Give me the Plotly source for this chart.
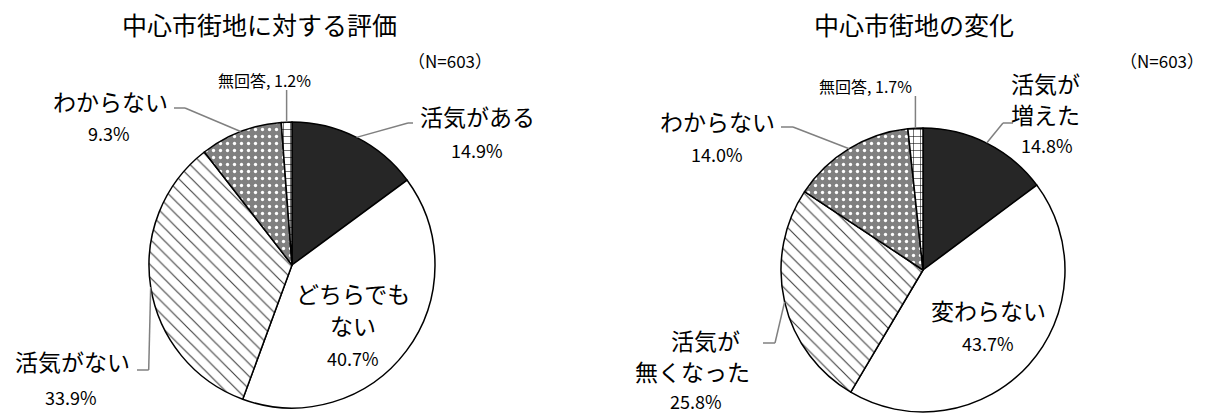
import math
import plotly.graph_objects as go

W, H = 1212, 415

# ---------------- data ----------------
titles = ["中心市街地に対する評価", "中心市街地の変化"]
n_label = "（N=603）"

cats1 = ["活気がある", "どちらでもない", "活気がない", "わからない", "無回答"]
vals1 = [14.9, 40.7, 33.9, 9.3, 1.2]
cats2 = ["活気が増えた", "変わらない", "活気が無くなった", "わからない", "無回答"]
vals2 = [14.8, 43.7, 25.8, 14.0, 1.7]

# label line breaks as shown on the chart
lines1 = [["活気がある"], ["どちらでも", "ない"], ["活気がない"], ["わからない"], None]
lines2 = [["活気が", "増えた"], ["変わらない"], ["活気が", "無くなった"], ["わからない"], None]

# ---------------- styles ----------------
FONT = "Noto Sans CJK JP"
fills = ["#262626", "#ffffff", "#ffffff", "#808080", "#ffffff"]
pat_shape = ["", "", "\\", ".", "+"]
pat_fg = ["#262626", "#ffffff", "#444444", "#ffffff", "#000000"]
pat_bg = ["#262626", "#ffffff", "#ffffff", "#808080", "#ffffff"]
pat_size = [8, 8, 9, 7, 7]
pat_sol = [0.3, 0.3, 0.13, 0.18, 0.15]

# pie geometry in pixels (center x, center y, radius)
geo = [(292, 265, 143), (923, 270, 142)]

NAME_SIZE = 23
PCT_SIZE = 18


def px(x):
    return x / W


def py(y):
    return 1 - y / H


fig = go.Figure()
for (cx, cy, r), cats, vals in zip(geo, [cats1, cats2], [vals1, vals2]):
    fig.add_trace(go.Pie(
        labels=cats, values=vals, sort=False, direction="clockwise", rotation=0,
        textinfo="none", hoverinfo="label+percent", showlegend=False,
        domain=dict(x=[px(cx - r), px(cx + r)], y=[py(cy + r), py(cy - r)]),
        marker=dict(colors=fills, line=dict(color="#000000", width=1.5),
                    pattern=dict(shape=pat_shape, fgcolor=pat_fg, bgcolor=pat_bg,
                                 size=pat_size, solidity=pat_sol)),
    ))

annotations = []
shapes = []


def txt(x, y, s, size, color="#000000"):
    annotations.append(dict(x=px(x), y=py(y), xref="paper", yref="paper", text=s,
                            showarrow=False, xanchor="center", yanchor="middle",
                            font=dict(family=FONT, size=size, color=color)))


def seg(pts):
    for (x0, y0), (x1, y1) in zip(pts[:-1], pts[1:]):
        shapes.append(dict(type="line", xref="paper", yref="paper",
                           x0=px(x0), y0=py(y0), x1=px(x1), y1=py(y1),
                           line=dict(color="#808080", width=1.5)))


def anchors(vals, cx, cy, r):
    out = []
    tot = sum(vals)
    cum = 0
    for v in vals:
        mid = (cum + v / 2) / tot * 2 * math.pi
        out.append((cx + r * math.sin(mid), cy - r * math.cos(mid)))
        cum += v
    return out


# ---- titles & N ----
txt(259, 24, titles[0], 25)
txt(914, 24, titles[1], 25)
txt(450, 60, n_label, 17)
txt(1162, 60, n_label, 17)

# ---- pie 1 labels ----
a1 = anchors(vals1, *geo[0])
name_pos1 = [(477, 116), (353, 293), (72, 361), (110, 101)]
pct_pos1 = [(477, 150), (353, 358), (71, 397), (109, 133)]
for i in range(4):
    x, y = name_pos1[i]
    for k, ln in enumerate(lines1[i]):
        txt(x, y + 32 * k, ln, NAME_SIZE)
    txt(*pct_pos1[i], f"{vals1[i]:.1f}%", PCT_SIZE)
txt(264, 80, f"{cats1[4]}, {vals1[4]:.1f}%", 16)

seg([a1[0], (408, 123), (413, 123)])
seg([a1[3], (185, 108), (174, 108)])
seg([a1[2], (a1[2][0] - 2, 370), (137, 370)])
seg([a1[4], (a1[4][0], 90)])

# ---- pie 2 labels ----
a2 = anchors(vals2, *geo[1])
name_pos2 = [(1045, 83), (988, 310), (705, 340), (717, 121)]
pct_pos2 = [(1047, 145), (988, 343), (696, 401), (717, 154)]
for i in range(4):
    x, y = name_pos2[i]
    for k, ln in enumerate(lines2[i]):
        txt(x - (12 if (i == 2 and k == 1) else 0), y + 31 * k, ln, NAME_SIZE)
    txt(*pct_pos2[i], f"{vals2[i]:.1f}%", PCT_SIZE)
txt(865, 86, f"{cats2[4]}, {vals2[4]:.1f}%", 16)

seg([a2[0], (1003, 123), (1013, 123)])
seg([a2[3], (793, 127), (781, 127)])
seg([a2[2], (775, 343), (763, 343)])
seg([a2[4], (a2[4][0], 96)])

fig.update_layout(
    width=W, height=H, margin=dict(l=0, r=0, t=0, b=0),
    paper_bgcolor="#ffffff", plot_bgcolor="#ffffff",
    annotations=annotations, shapes=shapes,
    font=dict(family=FONT),
)

fig.write_html("out.html", config={"displayModeBar": False},
               post_script="document.body.style.margin='0';")
